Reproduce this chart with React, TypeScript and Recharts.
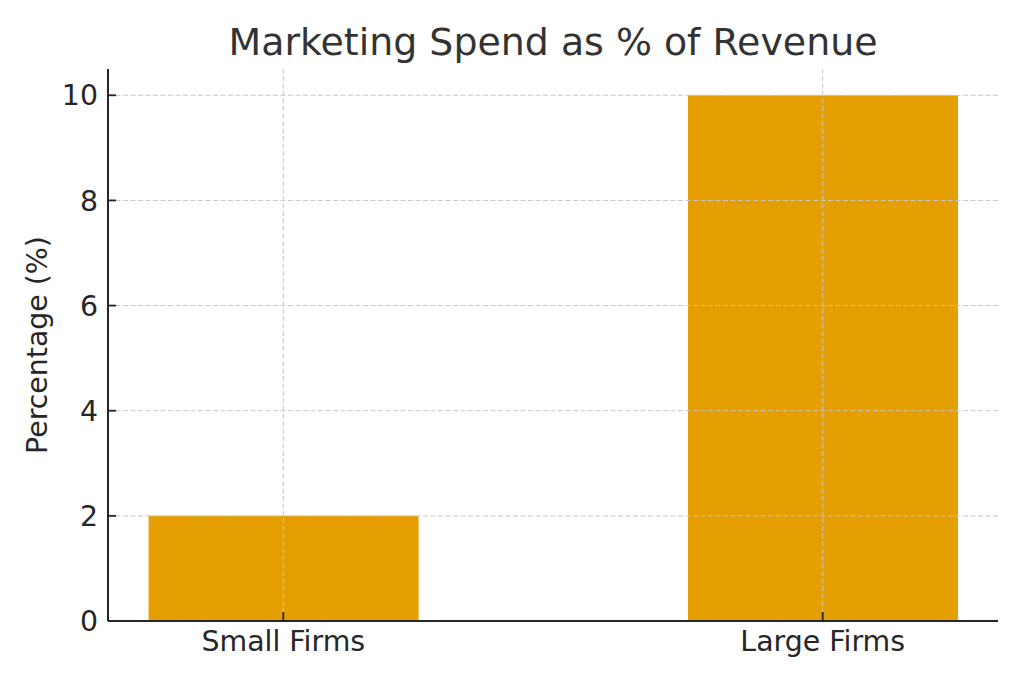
import React from 'react';
import { BarChart, Bar, XAxis, YAxis, ReferenceLine } from 'recharts';

// Firm size categories and marketing spend as share of revenue (%)
const categories = ['Small Firms', 'Large Firms'];
const spendPct = [2, 10];
const yTicks = [0, 2, 4, 6, 8, 10];
const categoryPositions = [0, 1];

const data = categories.map((name, i) => ({ pos: categoryPositions[i], name, value: spendPct[i] }));

const W = 1024;
const H = 683;
const FONT = '"DejaVu Sans", sans-serif';
const TICK_FONT = 28.4;
const TICK_COLOR = '#262626';
const SPINE = '#262626';
const GRID = '#c8c8c8';
const GRID_DASH = '5 2.5';
const Y_TICK_MARGIN = 10;
const X_TICK_MARGIN = 10;

// Y tick: label on the left, short tick mark pointing into the plot
const YTick = (props: any) => {
  const { x, y, payload } = props;
  const ax = x + Y_TICK_MARGIN;
  return (
    <g>
      <line x1={ax} x2={ax + 8} y1={y} y2={y} stroke={SPINE} strokeWidth={1.8} />
      <text x={x} y={y} dy="0.355em" textAnchor="end" fontFamily={FONT} fontSize={TICK_FONT} fill={TICK_COLOR}>
        {payload.value}
      </text>
    </g>
  );
};

// X tick: category name below the axis, tick mark pointing up into the plot
const XTick = (props: any) => {
  const { x, y, payload } = props;
  const ay = y - X_TICK_MARGIN;
  return (
    <g>
      <line x1={x} x2={x} y1={ay} y2={ay - 9} stroke={SPINE} strokeWidth={1.8} />
      <text x={x} y={y} dy="0.71em" textAnchor="middle" fontFamily={FONT} fontSize={TICK_FONT} fill={TICK_COLOR}>
        {categories[payload.value]}
      </text>
    </g>
  );
};

export default function App() {
  return (
    <div style={{ position: 'absolute', left: 0, top: 0, width: W, height: H, background: '#ffffff' }}>
      <BarChart width={W} height={H} data={data} margin={{ top: 69, right: 26, bottom: 12, left: 38 }}>
        <XAxis
          type="number"
          dataKey="pos"
          domain={[-0.325, 1.325]}
          ticks={categoryPositions}
          tickSize={0}
          tickMargin={X_TICK_MARGIN}
          height={50}
          axisLine={{ stroke: SPINE, strokeWidth: 2 }}
          tickLine={false}
          tick={<XTick />}
        />
        <YAxis
          type="number"
          domain={[0, 10.5]}
          ticks={yTicks}
          width={70}
          tickSize={0}
          tickMargin={Y_TICK_MARGIN}
          axisLine={{ stroke: SPINE, strokeWidth: 2 }}
          tickLine={false}
          tick={<YTick />}
        />
        <Bar dataKey="value" fill="#E69F00" barSize={270} isAnimationActive={false} />
        {yTicks.filter((v) => v > 0).map((v) => (
          <ReferenceLine key={`h${v}`} y={v} stroke={GRID} strokeWidth={1} strokeDasharray={GRID_DASH} />
        ))}
        {categoryPositions.map((p) => (
          <ReferenceLine key={`v${p}`} x={p} stroke={GRID} strokeWidth={1} strokeDasharray={GRID_DASH} />
        ))}
      </BarChart>
      <svg width={W} height={H} style={{ position: 'absolute', left: 0, top: 0, pointerEvents: 'none' }}>
        <text x={553} y={55} textAnchor="middle" fontFamily={FONT} fontSize={37.9} fill="#333333">
          Marketing Spend as % of Revenue
        </text>
        <text
          x={47}
          y={345}
          transform="rotate(-90 47 345)"
          textAnchor="middle"
          fontFamily={FONT}
          fontSize={TICK_FONT}
          fill={TICK_COLOR}
        >
          Percentage (%)
        </text>
      </svg>
    </div>
  );
}
